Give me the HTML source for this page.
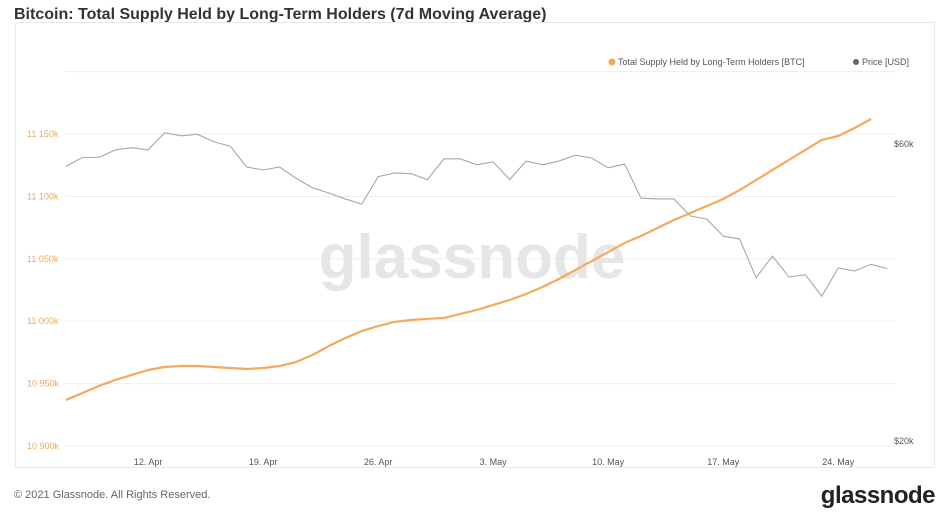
<!DOCTYPE html>
<html><head><meta charset="utf-8">
<style>
body{margin:0;width:949px;height:519px;background:#fff;font-family:"Liberation Sans",sans-serif;overflow:hidden;position:relative}
.title{position:absolute;left:14px;top:6px;font-size:16px;font-weight:bold;color:#333}
.frame{position:absolute;left:15px;top:22px;width:918px;height:444px;border:1px solid #e8e8e8;border-radius:2px}
.foot{position:absolute;left:14px;top:489px;font-size:11px;color:#666}
.logo{position:absolute;right:14px;top:482px;font-size:24px;font-weight:bold;color:#222;letter-spacing:-0.5px}
</style></head><body>
<div class="title">Bitcoin: Total Supply Held by Long-Term Holders (7d Moving Average)</div>
<div class="frame"></div>
<svg id="chart" width="949" height="519" style="position:absolute;left:0;top:0"></svg>
<div class="foot">© 2021 Glassnode. All Rights Reserved.</div>
<div class="logo">glassnode</div>
<script>
const supply=[10936.9,10942.5,10948.1,10952.9,10956.9,10960.9,10963.3,10964.1,10964.1,10963.3,10962.5,10961.7,10962.5,10964.1,10967.3,10972.9,10980.1,10986.5,10992.1,10996.1,10999.4,11001.0,11001.8,11002.6,11005.8,11009.0,11013.0,11017.0,11021.8,11027.4,11033.8,11041.0,11048.2,11055.4,11062.7,11068.3,11074.7,11081.1,11086.7,11092.3,11097.9,11105.1,11113.1,11121.2,11129.2,11137.2,11145.2,11148.4,11154.8,11162.0];
const price=[57.0,58.2,58.2,59.2,59.5,59.2,61.5,61.1,61.3,60.3,59.7,56.9,56.5,56.9,55.4,54.1,53.4,52.6,51.9,55.6,56.1,56.0,55.2,58.0,58.0,57.2,57.6,55.2,57.7,57.2,57.7,58.5,58.1,56.8,57.3,52.7,52.6,52.6,50.3,49.9,47.6,47.2,42.0,44.9,42.1,42.4,39.5,43.3,42.9,43.8,43.2];
const leftTicks=[10900,10950,11000,11050,11100,11150,11200];
const leftLabels=["10 900k","10 950k","11 000k","11 050k","11 100k","11 150k",""];
const rightTicks=[20,60];
const rightLabels=["$20k","$60k"];
const xTicks=[5,12,19,26,33,40,47];
const xLabels=["12. Apr","19. Apr","26. Apr","3. May","10. May","17. May","24. May"];
const NS="http://www.w3.org/2000/svg",svg=document.getElementById('chart');
const X0=66,X1=896;
const x=d=>66+d*16.43;
const yL=v=>446-(v-10900)*62.4/50;
const yR=v=>441-(v-20)*297/40;
function mk(t,a){const e=document.createElementNS(NS,t);for(const k in a)e.setAttribute(k,a[k]);svg.appendChild(e);return e;}
leftTicks.forEach((v,i)=>{
 const g=mk('line',{x1:X0,x2:X1,y1:yL(v),y2:yL(v),stroke:'#eeeeee','stroke-width':1});
 
 
 if(leftLabels[i]){const t=mk('text',{x:27,y:yL(v)+3,'font-size':9,fill:'#f0a860'});t.textContent=leftLabels[i];
 
 }
});
rightTicks.forEach((v,i)=>{const t=mk('text',{x:894,y:yR(v)+3,'font-size':9,fill:'#555'});t.textContent=rightLabels[i];
 
 });
xTicks.forEach((d,i)=>{const t=mk('text',{x:x(d),y:465,'font-size':9,fill:'#555','text-anchor':'middle'});t.textContent=xLabels[i];
 
 });
const wm=mk('text',{x:472,y:278,'font-size':62,fill:'#e6e6e6','text-anchor':'middle','font-weight':'bold'});wm.textContent='glassnode';


const pp=mk('polyline',{points:price.map((v,i)=>x(i)+','+yR(v)).join(' '),fill:'none',stroke:'#a8a8a8','stroke-width':1.1});


const sp=mk('polyline',{points:supply.map((v,i)=>x(i)+','+yL(v)).join(' '),fill:'none',stroke:'#f5a95a','stroke-width':2.2,'stroke-linejoin':'round'});


const d1=mk('circle',{cx:612,cy:62,r:3.5,fill:'#f5a95a'});


const l1=mk('text',{x:618,y:65,'font-size':9,fill:'#555'});l1.textContent='Total Supply Held by Long-Term Holders [BTC]';


const d2=mk('circle',{cx:856,cy:62,r:3,fill:'#666'});


const l2=mk('text',{x:862,y:65,'font-size':9,fill:'#555'});l2.textContent='Price [USD]';


</script>
</body></html>
